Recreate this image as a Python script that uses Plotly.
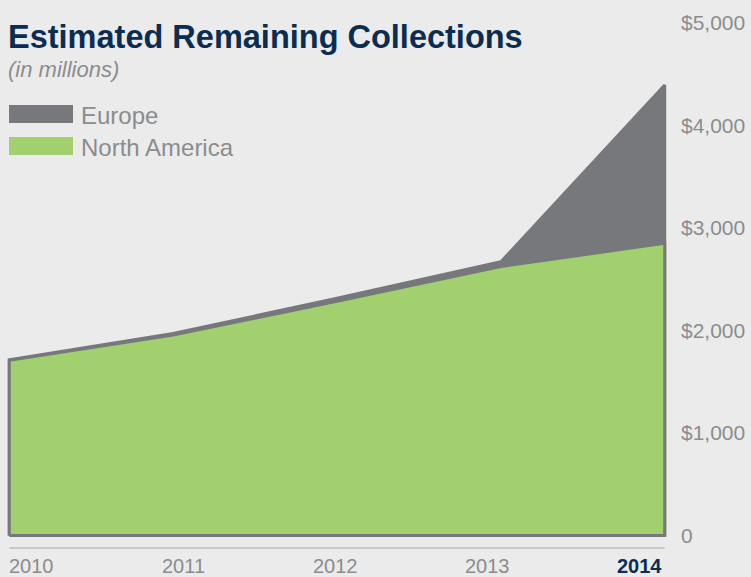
import plotly.graph_objects as go
import numpy as np

years = [2010, 2011, 2012, 2013, 2014]
year_labels = ["2010", "2011", "2012", "2013", "2014"]
north_america = [1710, 1955, 2285, 2625, 2850]
europe = [5, 15, 30, 45, 1545]
y_ticks = [0, 1000, 2000, 3000, 4000, 5000]
y_tick_labels = ["0", "$1,000", "$2,000", "$3,000", "$4,000", "$5,000"]

W, H = 751, 577
L, R, T, B = 6, 83, 23, 40
PW, PH = W - L - R, H - T - B

def px(x):
    return (x - L) / PW

def py(y):
    return (H - B - y) / PH

GREEN = "#a2d06e"
GRAY = "#77787c"
NAVY = "#0c2d52"
TXT = "#8b8c8e"
BG = "#ebebeb"
FONT = "Liberation Sans, Arial, sans-serif"

total = [a + b for a, b in zip(north_america, europe)]

fig = go.Figure()
# total (Europe on top of North America)
fig.add_trace(go.Scatter(
    x=[years[0]] + years + [years[-1]],
    y=[0] + total + [0],
    fill="toself", fillcolor=GRAY, mode="lines",
    line=dict(color=GRAY, width=3), showlegend=False, hoverinfo="skip"))
# North America
fig.add_trace(go.Scatter(
    x=[years[0]] + years + [years[-1], years[0]],
    y=[0] + north_america + [0, 0],
    fill="toself", fillcolor=GREEN, mode="lines",
    line=dict(color=GRAY, width=3), showlegend=False, hoverinfo="skip"))

fig.update_layout(
    width=W, height=H,
    margin=dict(l=L, r=R, t=T, b=B, pad=0),
    paper_bgcolor=BG, plot_bgcolor=BG,
    font=dict(family=FONT, color=TXT),
    showlegend=False,
    xaxis=dict(range=[2009.98, 2014.02], showgrid=False, zeroline=False,
               showticklabels=False, showline=False, fixedrange=True),
    yaxis=dict(range=[-15, 5000], side="right", tickvals=y_ticks,
               ticktext=y_tick_labels, showgrid=False, zeroline=False,
               showline=False, ticks="", ticklabelstandoff=12,
               tickfont=dict(size=21, color=TXT, family=FONT)),
)

shapes = [
    dict(type="line", xref="x", yref="paper", x0=years[0], x1=years[-1],
         y0=py(548), y1=py(548), line=dict(color="#c8c8c8", width=2)),
    dict(type="rect", xref="paper", yref="paper", x0=px(9), x1=px(73),
         y0=py(105), y1=py(123), fillcolor=GRAY, line=dict(width=0)),
    dict(type="rect", xref="paper", yref="paper", x0=px(9), x1=px(73),
         y0=py(137), y1=py(155), fillcolor=GREEN, line=dict(width=0)),
]
fig.update_layout(shapes=shapes)

ann = [
    dict(text="<b>Estimated Remaining Collections</b>", x=px(6), y=py(37),
         xref="paper", yref="paper", xanchor="left", yanchor="middle",
         showarrow=False, font=dict(size=32.5, color=NAVY, family=FONT)),
    dict(text="<i>(in millions)</i>", x=px(6), y=py(69),
         xref="paper", yref="paper", xanchor="left", yanchor="middle",
         showarrow=False, font=dict(size=22, color=TXT, family=FONT)),
    dict(text="Europe", x=px(79), y=py(115),
         xref="paper", yref="paper", xanchor="left", yanchor="middle",
         showarrow=False, font=dict(size=24, color=TXT, family=FONT)),
    dict(text="North America", x=px(79), y=py(147),
         xref="paper", yref="paper", xanchor="left", yanchor="middle",
         showarrow=False, font=dict(size=24, color=TXT, family=FONT)),
]
label_pos = np.linspace(2010.137, 2013.847, len(years))
for i, (lab, xp) in enumerate(zip(year_labels, label_pos)):
    last = i == len(years) - 1
    ann.append(dict(
        text=f"<b>{lab}</b>" if last else lab, x=xp, y=py(566),
        xref="x", yref="paper", xanchor="center", yanchor="middle",
        showarrow=False,
        font=dict(size=20, color=NAVY if last else TXT, family=FONT)))
fig.update_layout(annotations=ann)

fig.write_html("out.html",
               config={"displayModeBar": False, "staticPlot": True},
               post_script="document.body.style.margin='0';"
                           "document.body.style.background='#ebebeb';")
